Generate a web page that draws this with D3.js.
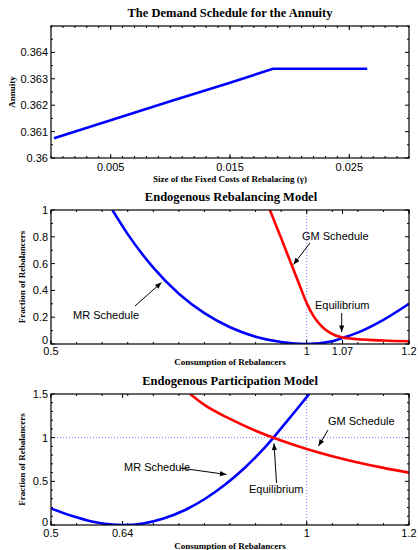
<!DOCTYPE html>
<html>
<head>
<meta charset="utf-8">
<script src="https://cdn.jsdelivr.net/npm/d3@7"></script>
<style>
  body { margin: 0; background: #fff; }
  svg { display: block; }
</style>
</head>
<body>
<div id="chart"></div>
<script>
// --------------- DATA ---------------------
const annuityGamma = [0.00025, 0.005, 0.010, 0.015, 0.0186, 0.0220, 0.0265];
const annuityValue = [0.36075, 0.36143, 0.36215, 0.36285, 0.36338, 0.36338, 0.36338];

const rebalMRc = [0.620, 0.650, 0.700, 0.750, 0.800, 0.850, 0.900, 0.950, 1.000, 1.050, 1.070, 1.100, 1.150, 1.200];
const rebalMRv = [1.000, 0.820, 0.570, 0.375, 0.230, 0.125, 0.055, 0.015, 0.000, 0.020, 0.045, 0.085, 0.180, 0.300];
const rebalGMc = [0.928, 0.950, 0.970, 0.985, 1.000, 1.013, 1.026, 1.045, 1.070, 1.100, 1.150, 1.200];
const rebalGMv = [1.000, 0.790, 0.595, 0.450, 0.305, 0.210, 0.145, 0.085, 0.048, 0.036, 0.026, 0.020];

const partMRc = [0.500, 0.540, 0.580, 0.620, 0.640, 0.680, 0.720, 0.760, 0.800, 0.840, 0.880, 0.920, 0.960, 1.005];
const partMRv = [0.190, 0.105, 0.040, 0.005, 0.000, 0.018, 0.074, 0.166, 0.295, 0.460, 0.662, 0.900, 1.178, 1.500];
const partGMc = [0.772, 0.800, 0.850, 0.900, 0.950, 1.000, 1.050, 1.100, 1.150, 1.200];
const partGMv = [1.500, 1.375, 1.215, 1.080, 0.968, 0.871, 0.788, 0.716, 0.654, 0.600];

const annuityXTicks = [0.005, 0.015, 0.025];
const annuityYTicks = [0.36, 0.361, 0.362, 0.363, 0.364];
const rebalXTicks = [0.5, 1, 1.07, 1.2];
const rebalYTicks = [0, 0.2, 0.4, 0.6, 0.8, 1];
const partXTicks = [0.5, 0.64, 1, 1.2];
const partYTicks = [0, 0.5, 1, 1.5];

// --------------- DRAW ---------------------
const W = 418, H = 550;
const svg = d3.select("#chart").append("svg")
    .attr("width", W).attr("height", H);

const serif = "'Liberation Serif', 'Times New Roman', serif";
const sans = "'Liberation Sans', Arial, sans-serif";

function range(a, b, step) {
    const out = [];
    const n = Math.round((b - a) / step);
    for (let i = 0; i <= n; i++) out.push(+(a + i * step).toFixed(6));
    return out;
}

function panel(cfg) {
    const x = d3.scaleLinear().domain(cfg.xDomain).range([51, 409]);
    const y = d3.scaleLinear().domain(cfg.yDomain).range([cfg.bottom, cfg.top]);
    const g = svg.append("g");

    // title
    g.append("text")
        .attr("x", cfg.titleX).attr("y", cfg.titleY)
        .attr("text-anchor", "middle")
        .attr("font-family", serif).attr("font-weight", "bold").attr("font-size", "12.5px")
        .text(cfg.title);

    // dotted guide lines
    (cfg.vGuides || []).forEach(v => {
        g.append("line")
            .attr("x1", x(v)).attr("x2", x(v)).attr("y1", cfg.top).attr("y2", cfg.bottom)
            .attr("stroke", "#7a7aff").attr("stroke-width", 1).attr("stroke-dasharray", "1,2");
    });
    (cfg.hGuides || []).forEach(v => {
        g.append("line")
            .attr("x1", 51).attr("x2", 409).attr("y1", y(v)).attr("y2", y(v))
            .attr("stroke", "#7a7aff").attr("stroke-width", 1).attr("stroke-dasharray", "1,2");
    });

    // ticks (inward, all four sides)
    const ticks = g.append("g").attr("stroke", "#000").attr("stroke-width", 1);
    cfg.xMinor.forEach(v => {
        ticks.append("line").attr("x1", x(v)).attr("x2", x(v)).attr("y1", cfg.bottom).attr("y2", cfg.bottom - 2);
        ticks.append("line").attr("x1", x(v)).attr("x2", x(v)).attr("y1", cfg.top).attr("y2", cfg.top + 2);
    });
    cfg.xTicks.forEach(v => {
        ticks.append("line").attr("x1", x(v)).attr("x2", x(v)).attr("y1", cfg.bottom).attr("y2", cfg.bottom - 4);
        ticks.append("line").attr("x1", x(v)).attr("x2", x(v)).attr("y1", cfg.top).attr("y2", cfg.top + 4);
    });
    cfg.yMinor.forEach(v => {
        const len = cfg.yTicks.some(t => Math.abs(t - v) < 1e-9) ? 4 : 2;
        ticks.append("line").attr("x1", 51).attr("x2", 51 + len).attr("y1", y(v)).attr("y2", y(v));
        ticks.append("line").attr("x1", 409).attr("x2", 409 - len).attr("y1", y(v)).attr("y2", y(v));
    });

    // tick labels
    g.append("g").selectAll("text").data(cfg.xTicks).enter().append("text")
        .attr("x", d => x(d)).attr("y", cfg.bottom + cfg.xLabelDy)
        .attr("text-anchor", "middle")
        .attr("font-family", sans).attr("font-size", "11px")
        .text(d => d);
    g.append("g").selectAll("text").data(cfg.yTicks).enter().append("text")
        .attr("x", 48).attr("y", (d, i) => y(d) + 4 - (i === 0 ? cfg.zeroLift : 0))
        .attr("text-anchor", "end")
        .attr("font-family", sans).attr("font-size", "11px")
        .text(d => d);

    // axis titles
    g.append("text")
        .attr("x", 230).attr("y", cfg.xTitleY)
        .attr("text-anchor", "middle")
        .attr("font-family", serif).attr("font-weight", "bold").attr("font-size", "9px")
        .text(cfg.xTitle);
    g.append("text")
        .attr("transform", `translate(${cfg.yTitleX},${(cfg.top + cfg.bottom) / 2}) rotate(-90)`)
        .attr("text-anchor", "middle")
        .attr("font-family", serif).attr("font-weight", "bold").attr("font-size", "9px")
        .text(cfg.yTitle);

    // clip + series
    const clipId = "clip" + cfg.id;
    svg.append("clipPath").attr("id", clipId).append("rect")
        .attr("x", 51).attr("y", cfg.top).attr("width", 358).attr("height", cfg.bottom - cfg.top);
    cfg.series.forEach(s => {
        const pts = s.xs.map((c, i) => [c, s.ys[i]]);
        g.append("path")
            .attr("clip-path", `url(#${clipId})`)
            .attr("d", d3.line().x(d => x(d[0])).y(d => y(d[1])).curve(s.curve || d3.curveMonotoneX)(pts))
            .attr("fill", "none")
            .attr("stroke", s.color).attr("stroke-width", 2.6);
    });

    // frame
    g.append("rect")
        .attr("x", 51).attr("y", cfg.top).attr("width", 358).attr("height", cfg.bottom - cfg.top)
        .attr("fill", "none").attr("stroke", "#000").attr("stroke-width", 1.2);

    // annotations
    (cfg.notes || []).forEach(n => {
        g.append("text")
            .attr("x", n.tx).attr("y", n.ty)
            .attr("font-family", sans).attr("font-size", "11px")
            .text(n.text);
        const x1 = n.a[0], y1 = n.a[1], x2 = n.a[2], y2 = n.a[3];
        g.append("line")
            .attr("x1", x1).attr("y1", y1).attr("x2", x2).attr("y2", y2)
            .attr("stroke", "#000").attr("stroke-width", 1);
        const ang = Math.atan2(y2 - y1, x2 - x1), L = 7, hw = 0.38;
        const p1 = [x2 - L * Math.cos(ang - hw), y2 - L * Math.sin(ang - hw)];
        const p2 = [x2 - L * Math.cos(ang + hw), y2 - L * Math.sin(ang + hw)];
        g.append("path")
            .attr("d", `M${x2},${y2}L${p1[0]},${p1[1]}L${p2[0]},${p2[1]}Z`)
            .attr("fill", "#000");
    });
}

panel({
    id: 1, title: "The Demand Schedule for the Annuity", titleX: 230, titleY: 17,
    top: 26, bottom: 158,
    xDomain: [0, 0.03], yDomain: [0.36, 0.365],
    xTicks: annuityXTicks, xMinor: range(0, 0.03, 0.001),
    yTicks: annuityYTicks, yMinor: range(0.36, 0.365, 0.0005),
    xLabelDy: 13, xTitleY: 182, xTitle: "Size of the Fixed Costs of Rebalacing (\u03b3)",
    yTitleX: 15, yTitle: "Annuity", zeroLift: 0,
    series: [{ xs: annuityGamma, ys: annuityValue, color: "#0000ff", curve: d3.curveLinear }]
});

panel({
    id: 2, title: "Endogenous Rebalancing Model", titleX: 231, titleY: 201,
    top: 210, bottom: 344,
    xDomain: [0.5, 1.2], yDomain: [0, 1],
    xTicks: rebalXTicks, xMinor: range(0.5, 1.2, 0.05),
    yTicks: rebalYTicks, yMinor: range(0, 1, 0.1),
    xLabelDy: 11, xTitleY: 365, xTitle: "Consumption of Rebalancers",
    yTitleX: 25, yTitle: "Fraction of Rebalancers", zeroLift: 4,
    vGuides: [1],
    series: [
        { xs: rebalMRc, ys: rebalMRv, color: "#0000ff" },
        { xs: rebalGMc, ys: rebalGMv, color: "#ff0000" }
    ],
    notes: [
        { text: "GM Schedule", tx: 302, ty: 240, a: [310, 243, 293.5, 264.5] },
        { text: "MR Schedule", tx: 73, ty: 319, a: [135, 306, 161.5, 282.5] },
        { text: "Equilibrium", tx: 315, ty: 309, a: [341.7, 313, 341.7, 332] }
    ]
});

panel({
    id: 3, title: "Endogenous Participation Model", titleX: 230, titleY: 385,
    top: 394, bottom: 525,
    xDomain: [0.5, 1.2], yDomain: [0, 1.5],
    xTicks: partXTicks, xMinor: range(0.5, 1.2, 0.05),
    yTicks: partYTicks, yMinor: range(0, 1.5, 0.1),
    xLabelDy: 12, xTitleY: 549, xTitle: "Consumption of Rebalancers",
    yTitleX: 25, yTitle: "Fraction of Rebalancers", zeroLift: 3,
    vGuides: [1], hGuides: [1],
    series: [
        { xs: partMRc, ys: partMRv, color: "#0000ff" },
        { xs: partGMc, ys: partGMv, color: "#ff0000" }
    ],
    notes: [
        { text: "GM Schedule", tx: 328, ty: 425, a: [328, 430, 318.5, 446] },
        { text: "MR Schedule", tx: 124, ty: 471, a: [180, 468, 226.5, 474.5] },
        { text: "Equilibrium", tx: 249, ty: 493, a: [276.5, 483, 274, 443.5] }
    ]
});
</script>
</body>
</html>
